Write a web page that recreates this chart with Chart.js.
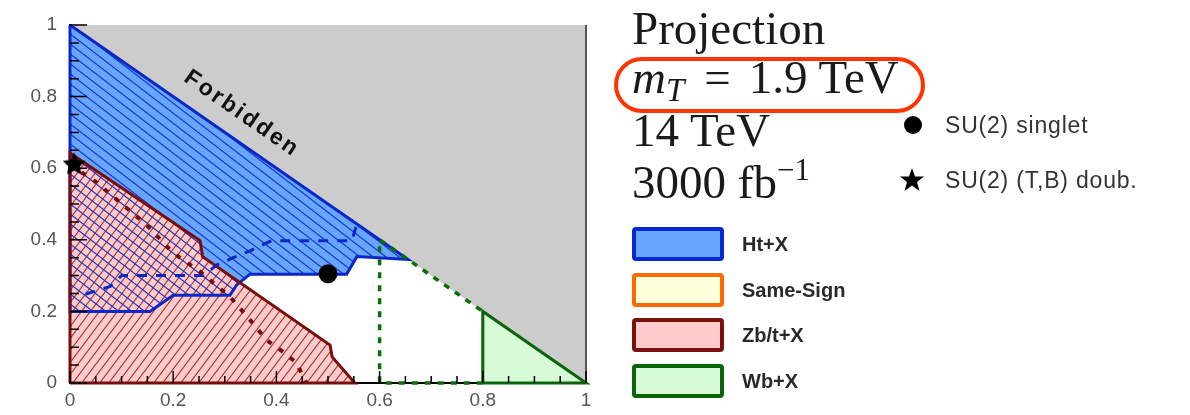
<!DOCTYPE html>
<html><head><meta charset="utf-8">
<script src="https://cdn.jsdelivr.net/npm/chart.js@4.4.1/dist/chart.umd.min.js"></script>
<style>
html,body{margin:0;padding:0;background:#fff;}
#wrap{position:relative;width:1190px;height:415px;overflow:hidden;background:#fff;}
#c{position:absolute;left:0;top:0;}
.serif{position:absolute;font-family:'Liberation Serif','Times New Roman',serif;font-size:47px;color:#1a1a1a;white-space:nowrap;line-height:47px;}
.sans{position:absolute;font-family:'Liberation Sans',Arial,sans-serif;color:#333;white-space:nowrap;letter-spacing:0.8px;}
.box{position:absolute;box-sizing:border-box;width:92px;height:34px;border-width:4px;border-style:solid;border-radius:4px;}
.lab{position:absolute;font-family:'Liberation Sans',Arial,sans-serif;font-size:20px;font-weight:bold;color:#2a2a2a;line-height:34px;white-space:nowrap;}
</style></head><body>
<div id="wrap">
<canvas id="c" width="1190" height="415"></canvas>

<div class="serif" style="left:632px;top:5px">Projection</div>
<div class="serif" style="left:632px;top:54px"><i>m</i><span style="position:relative;top:8px;font-size:33px;font-style:italic">T</span><span style="margin:0 18px 0 20px">=</span>1.9 TeV</div>
<div style="position:absolute;left:614px;top:57px;width:311px;height:56px;box-sizing:border-box;border:4px solid #ff3300;border-radius:28px;"></div>
<div class="serif" style="left:632px;top:107px">14 TeV</div>
<div class="serif" style="left:632px;top:159px">3000 fb<span style="position:relative;top:-18px;font-size:31px">−1</span></div>

<svg style="position:absolute;left:902px;top:114px" width="22" height="22"><circle cx="11" cy="11" r="9" fill="#000"/></svg>
<div class="sans" style="left:945px;top:111px;font-size:23px;line-height:28px">SU(2) singlet</div>
<svg style="position:absolute;left:899px;top:167px" width="26" height="26"><polygon points="13,1 16,9.5 25,9.5 18,15 20.5,24 13,18.5 5.5,24 8,15 1,9.5 10,9.5" fill="#000"/></svg>
<div class="sans" style="left:945px;top:166px;font-size:23px;line-height:28px">SU(2) (T,B) doub.</div>

<div class="box" style="left:632px;top:227px;background:#66a6ff;border-color:#0a28d0"></div>
<div class="lab" style="left:742px;top:227px">Ht+X</div>
<div class="box" style="left:632px;top:273px;background:#ffffdc;border-color:#ff6a00"></div>
<div class="lab" style="left:742px;top:273px">Same-Sign</div>
<div class="box" style="left:632px;top:318px;background:#ffcccc;border-color:#7a1010"></div>
<div class="lab" style="left:742px;top:318px">Zb/t+X</div>
<div class="box" style="left:632px;top:364px;background:#d6fbd6;border-color:#0a640a"></div>
<div class="lab" style="left:742px;top:364px">Wb+X</div>
</div>

<script>
// ---- data ----
const xTickValues = [0, 0.2, 0.4, 0.6, 0.8, 1];
const xTickLabels = ['0', '0.2', '0.4', '0.6', '0.8', '1'];
const yTickValues = [0, 0.2, 0.4, 0.6, 0.8, 1];
const yTickLabels = ['0', '0.2', '0.4', '0.6', '0.8', '1'];

const forbiddenX = [0, 1, 1];
const forbiddenY = [1, 1, 0];

const htObsX = [0, 0.655, 0.556, 0.536, 0.349, 0.323, 0.31, 0.2, 0.155, 0];
const htObsY = [1, 0.345, 0.353, 0.304, 0.304, 0.274, 0.245, 0.245, 0.2, 0.2];
const htExpX = [0.03, 0.078, 0.1, 0.258, 0.285, 0.316, 0.35, 0.39, 0.546, 0.556];
const htExpY = [0.248, 0.27, 0.3, 0.3, 0.33, 0.35, 0.37, 0.397, 0.397, 0.444];

const zbObsX = [0, 0, 0.252, 0.257, 0.504, 0.508, 0.552];
const zbObsY = [0, 0.642, 0.398, 0.353, 0.106, 0.073, 0];
const zbExpX = [0, 0.05, 0.103, 0.149, 0.2, 0.252, 0.31, 0.349, 0.381, 0.413, 0.439, 0.458];
const zbExpY = [0.61, 0.562, 0.497, 0.441, 0.363, 0.311, 0.241, 0.176, 0.12, 0.087, 0.056, 0];

const wbObsX = [0.8, 0.8, 1];
const wbObsY = [0, 0.2, 0];
const wbExpX = [0.8, 0.6, 0.6, 0.8];
const wbExpY = [0, 0, 0.4, 0.2];

const frameX = [1, 1];
const frameY = [0, 1];

const singletX = [0.5];
const singletY = [0.305];
const doubletX = [0.008];
const doubletY = [0.61];

const forbiddenLabel = 'Forbidden';
const forbiddenLabelX = [0.333];
const forbiddenLabelY = [0.752];

// ---- helpers ----
function pts(xs, ys) { return xs.map((x, i) => ({x: x, y: ys[i]})); }
function closed(xs, ys) { const p = pts(xs, ys); p.push({x: xs[0], y: ys[0]}); return p; }

// hatch tile: lines through tile corners; W = horizontal period, H = vertical period
function hatch(bg, fg, dir, W, H, lw) {
  const c = document.createElement('canvas');
  c.width = W; c.height = H;
  const g = c.getContext('2d');
  if (bg) { g.fillStyle = bg; g.fillRect(0, 0, W, H); }
  g.strokeStyle = fg; g.lineWidth = lw;
  g.beginPath();
  const s = H / W;
  for (let k = -1; k <= 1; k++) {
    if (dir === '/') {
      g.moveTo(-2, H + 2 * s + k * H); g.lineTo(W + 2, -2 * s + k * H);
    } else {
      g.moveTo(-2, -2 * s + k * H); g.lineTo(W + 2, H + 2 * s + k * H);
    }
  }
  g.stroke();
  return g.createPattern(c, 'repeat');
}

function starImage(r) {
  const s = Math.ceil(r * 2 + 2);
  const c = document.createElement('canvas');
  c.width = s; c.height = s;
  const g = c.getContext('2d');
  g.fillStyle = '#000';
  g.beginPath();
  for (let i = 0; i < 10; i++) {
    const a = -Math.PI / 2 + i * Math.PI / 5;
    const rr = i % 2 === 0 ? r : r * 0.5;
    const px = s / 2 + rr * Math.cos(a), py = s / 2 + rr * Math.sin(a);
    if (i === 0) g.moveTo(px, py); else g.lineTo(px, py);
  }
  g.closePath(); g.fill();
  return c;
}

const redHatch = hatch('#ffcccc', '#a83a3a', '/', 9, 12, 1.2);
const blueHatch = hatch(null, '#1a36c8', '\\', 13, 10, 1.2);

const base = {showLine: true, pointRadius: 0, tension: 0, fill: false, borderWidth: 0,
  borderColor: 'rgba(0,0,0,0)', backgroundColor: 'rgba(0,0,0,0)'};

const datasets = [
  Object.assign({}, base, {label: 'Forbidden', data: pts(forbiddenX, forbiddenY), fill: 'shape', backgroundColor: '#cccccc', order: 20}),
  Object.assign({}, base, {label: 'Ht+X fill', data: pts(htObsX, htObsY), fill: 'shape', backgroundColor: '#66a6ff', order: 19}),
  Object.assign({}, base, {label: 'Zb/t+X fill', data: pts(zbObsX, zbObsY), fill: 'shape', backgroundColor: redHatch, order: 18}),
  Object.assign({}, base, {label: 'Ht+X hatch', data: pts(htObsX, htObsY), fill: 'shape', backgroundColor: blueHatch, order: 17}),
  Object.assign({}, base, {label: 'Wb+X fill', data: pts(wbObsX, wbObsY), fill: 'shape', backgroundColor: '#d6fbd6', order: 16}),
  Object.assign({}, base, {label: 'Ht+X', data: closed(htObsX, htObsY), borderColor: '#0a28c8', borderWidth: 3, clip: false, order: 15}),
  Object.assign({}, base, {label: 'Zb/t+X', data: closed(zbObsX, zbObsY), borderColor: '#7a0c0c', borderWidth: 3, clip: false, order: 14}),
  Object.assign({}, base, {label: 'Wb+X', data: closed(wbObsX, wbObsY), borderColor: '#0a640a', borderWidth: 3, clip: false, order: 13}),
  Object.assign({}, base, {label: 'Zb/t+X exp', data: pts(zbExpX, zbExpY), borderColor: '#7a0c0c', borderWidth: 4, borderDash: [5, 9], order: 12}),
  Object.assign({}, base, {label: 'Ht+X exp', data: pts(htExpX, htExpY), borderColor: '#0a28c8', borderWidth: 3, borderDash: [10, 9], order: 11}),
  Object.assign({}, base, {label: 'Wb+X exp', data: pts(wbExpX, wbExpY), borderColor: '#0a6e0a', borderWidth: 3.5, borderDash: [6, 7], clip: false, order: 10}),
  Object.assign({}, base, {label: 'frame', data: pts(frameX, frameY), borderColor: '#555', borderWidth: 2, clip: false, order: 9}),
  Object.assign({}, base, {label: 'SU(2) singlet', data: pts(singletX, singletY), showLine: false, pointRadius: 9.5, pointStyle: 'circle', pointBackgroundColor: '#000', pointBorderWidth: 0, clip: false, order: 2}),
  Object.assign({}, base, {label: 'SU(2) (T,B) doub.', data: pts(doubletX, doubletY), showLine: false, pointRadius: 12, pointStyle: starImage(12), clip: false, order: 1})
];

const ticksPlugin = {
  id: 'innerTicks',
  afterDatasetsDraw(chart) {
    const ctx = chart.ctx, xs = chart.scales.x, ys = chart.scales.y;
    ctx.save();
    ctx.strokeStyle = '#000'; ctx.lineWidth = 1.5;
    ctx.beginPath();
    for (let i = 0; i <= 20; i++) {
      const v = i / 20, major = i % 4 === 0;
      const px = xs.getPixelForValue(v);
      ctx.moveTo(px, ys.bottom); ctx.lineTo(px, ys.bottom - (major ? 12 : 7));
      const py = ys.getPixelForValue(v);
      ctx.moveTo(xs.left, py); ctx.lineTo(xs.left + (major ? 17 : 9), py);
    }
    ctx.stroke();
    // Forbidden label
    const p0x = xs.getPixelForValue(0), p0y = ys.getPixelForValue(1);
    const p1x = xs.getPixelForValue(1), p1y = ys.getPixelForValue(0);
    const ang = Math.atan2(p1y - p0y, p1x - p0x);
    ctx.translate(xs.getPixelForValue(forbiddenLabelX[0]), ys.getPixelForValue(forbiddenLabelY[0]));
    ctx.rotate(ang);
    ctx.font = 'bold 23px "Liberation Sans", Arial, sans-serif';
    if ('letterSpacing' in ctx) ctx.letterSpacing = '2.5px';
    ctx.fillStyle = '#111';
    ctx.textAlign = 'center'; ctx.textBaseline = 'middle';
    ctx.fillText(forbiddenLabel, 0, 0);
    ctx.restore();
  }
};

new Chart(document.getElementById('c').getContext('2d'), {
  type: 'scatter',
  data: {datasets: datasets},
  options: {
    responsive: false,
    animation: false,
    devicePixelRatio: 1,
    layout: {padding: {left: 0, top: 25, right: 604, bottom: 0}},
    plugins: {legend: {display: false}, tooltip: {enabled: false}},
    scales: {
      x: {
        type: 'linear', min: 0, max: 1,
        grid: {display: false, drawTicks: false},
        border: {display: true, color: '#000', width: 2},
        afterBuildTicks(s) { s.ticks = xTickValues.map(v => ({value: v})); },
        afterFit(s) { s.height = 32; },
        ticks: {padding: 6, color: '#555', font: {family: 'Liberation Sans', size: 19},
          maxRotation: 0, autoSkip: false,
          callback: (v, i) => xTickLabels[i]}
      },
      y: {
        type: 'linear', min: 0, max: 1,
        grid: {display: false, drawTicks: false},
        border: {display: true, color: '#000', width: 2},
        afterBuildTicks(s) { s.ticks = yTickValues.map(v => ({value: v})); },
        afterFit(s) { s.width = 70; },
        ticks: {padding: 13, color: '#555', font: {family: 'Liberation Sans', size: 19},
          autoSkip: false,
          callback: (v, i) => yTickLabels[i]}
      }
    }
  },
  plugins: [ticksPlugin]
});
</script>
</body></html>
